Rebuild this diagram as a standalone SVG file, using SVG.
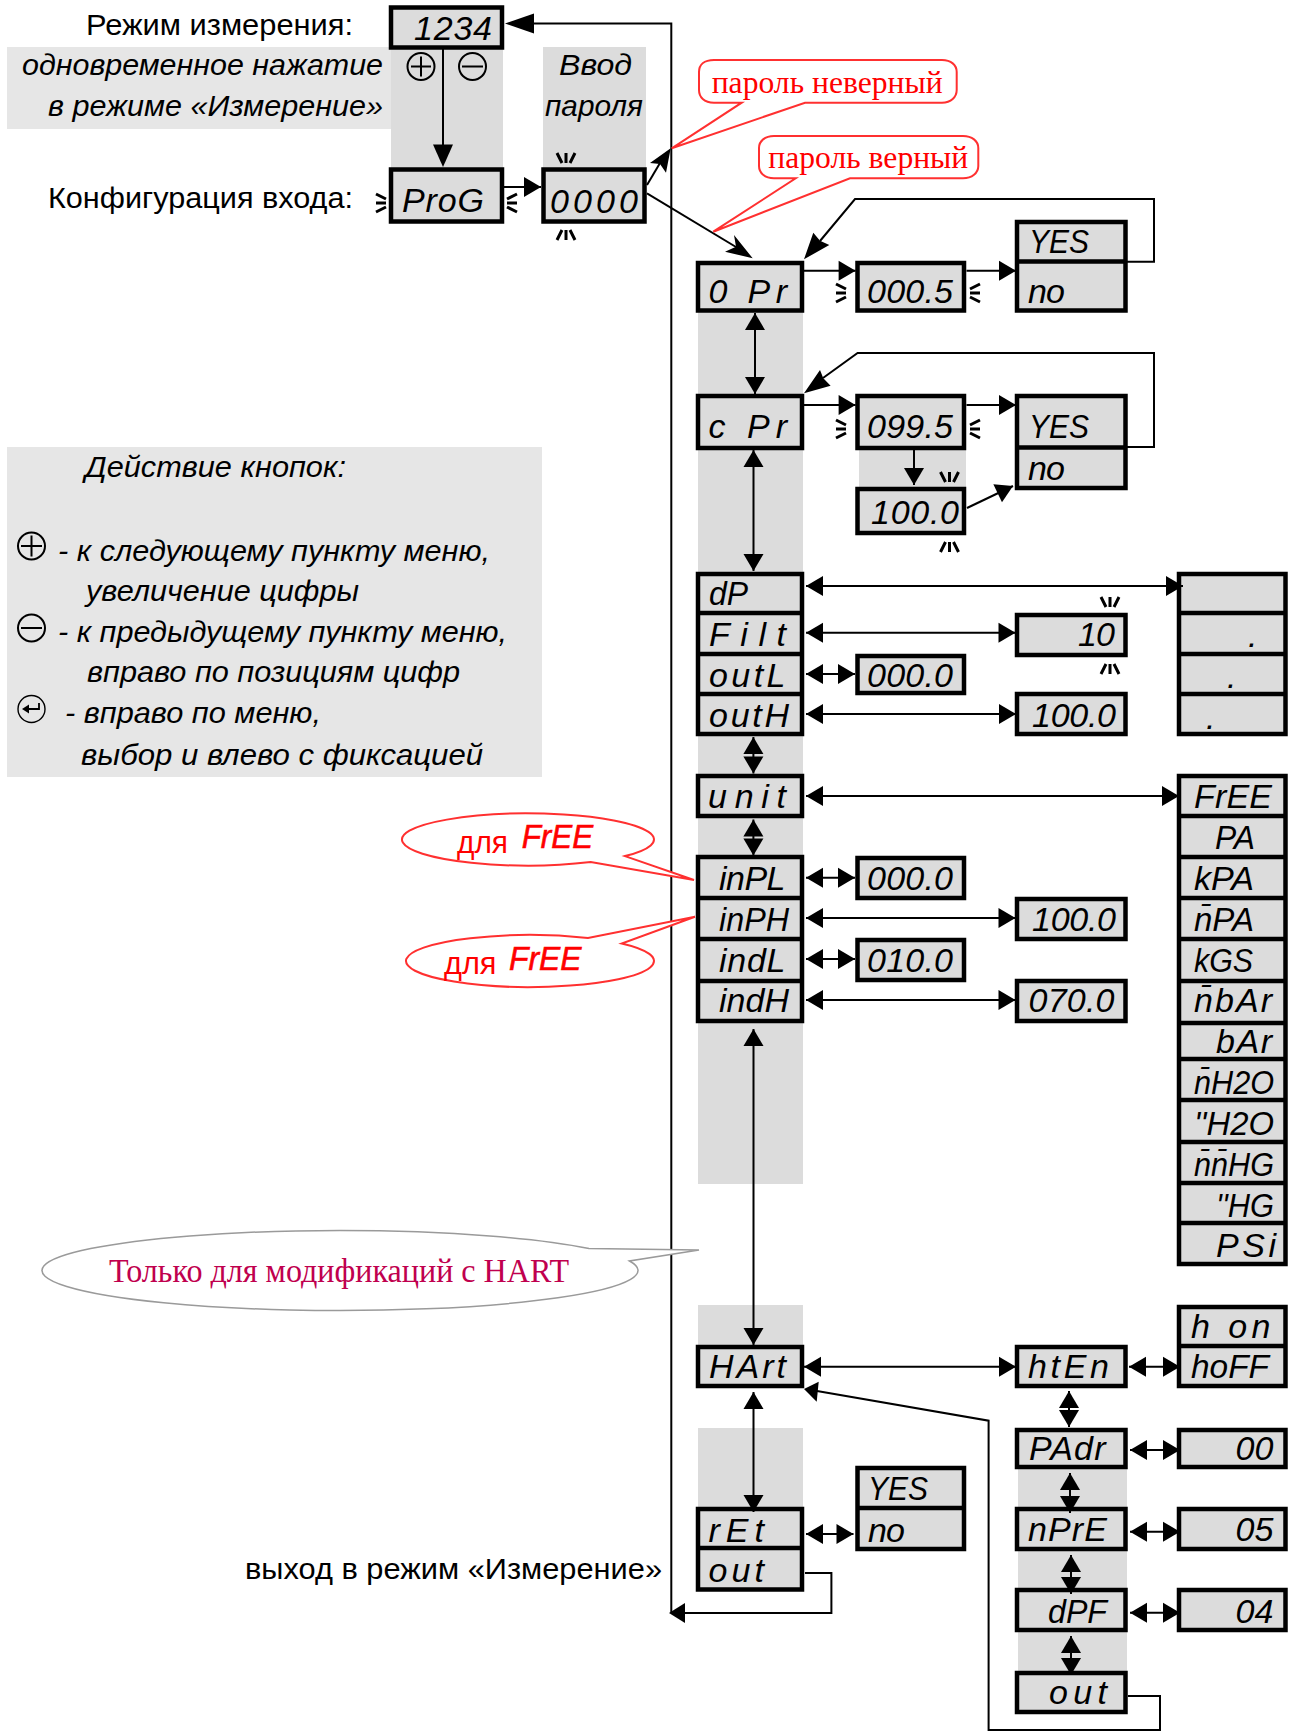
<svg xmlns="http://www.w3.org/2000/svg" xmlns:xlink="http://www.w3.org/1999/xlink" width="1292" height="1731" viewBox="0 0 1292 1731">
<style>
.bx{fill:#dcdcdc;stroke:#000;stroke-width:4.5}
.dv{stroke:#000;stroke-width:4.5;fill:none}
.lcd{font-family:"Liberation Sans",Arial,sans-serif;font-style:italic;font-size:34px;fill:#000}
.rlcd{font-family:"Liberation Sans",Arial,sans-serif;font-style:italic;font-size:33px;fill:#f00;stroke:#f00;stroke-width:.6}
.lb{font-family:"Liberation Sans",Arial,sans-serif;font-size:30px;fill:#000}
.it{font-family:"Liberation Sans",Arial,sans-serif;font-style:italic;font-size:30px;fill:#000}
.rs{font-family:"Liberation Serif","Times New Roman",serif;font-size:32px;fill:#f00}
.rsans{font-family:"Liberation Sans",Arial,sans-serif;font-size:31px;fill:#f00}
.rl{fill:#fff;stroke:#ff3030;stroke-width:2}
.c{fill:none;stroke:#000;stroke-width:2}
.d{fill:none;stroke:#000;stroke-width:2;marker-start:url(#h);marker-end:url(#h)}
.a{fill:none;stroke:#000;stroke-width:2;marker-end:url(#h)}
.hd{fill:#000;stroke:none}
.btn{fill:none;stroke:#000;stroke-width:2}
</style>
<defs>
<marker id="h" markerUnits="userSpaceOnUse" markerWidth="17" markerHeight="20" viewBox="0 0 17 20" refX="17" refY="10" orient="auto-start-reverse" overflow="visible"><path d="M0 0L17 10L0 20Z" fill="#000"/></marker>
<g id="blink"><path d="M-4 0L-9 -10M0 0V-10M4 0L9 -10" fill="none" stroke="#000" stroke-width="3"/></g>
</defs>
<g id="backgrounds">
<rect x="7" y="47" width="384" height="82" fill="#e6e6e6"/>
<rect x="391" y="47" width="112" height="122" fill="#dcdcdc"/>
<rect x="543" y="47" width="103" height="122" fill="#dcdcdc"/>
<rect x="698" y="312" width="105" height="872" fill="#dcdcdc"/>
<rect x="698" y="1305" width="105" height="42" fill="#dcdcdc"/>
<rect x="698" y="1428" width="105" height="80" fill="#dcdcdc"/>
<rect x="859" y="449" width="107" height="40" fill="#dcdcdc"/>
<rect x="1018" y="1469" width="109" height="203" fill="#dcdcdc"/>
<rect x="7" y="447" width="535" height="330" fill="#e6e6e6"/>
</g>
<g id="labels">
<text class="lb" x="86" y="35" textLength="267" lengthAdjust="spacingAndGlyphs">Режим измерения:</text>
<text class="it" x="22" y="75" textLength="361" lengthAdjust="spacingAndGlyphs">одновременное нажатие</text>
<text class="it" x="48" y="116" textLength="335" lengthAdjust="spacingAndGlyphs">в режиме «Измерение»</text>
<text class="it" x="559" y="75" textLength="73" lengthAdjust="spacingAndGlyphs">Ввод</text>
<text class="it" x="545" y="116" textLength="98" lengthAdjust="spacingAndGlyphs">пароля</text>
<text class="lb" x="48" y="208" textLength="305" lengthAdjust="spacingAndGlyphs">Конфигурация входа:</text>
<text class="lb" x="245" y="1579" textLength="417" lengthAdjust="spacingAndGlyphs">выход в режим «Измерение»</text>
<text class="it" x="85" y="477" textLength="261" lengthAdjust="spacingAndGlyphs">Действие кнопок:</text>
<text class="it" x="58" y="561" textLength="432" lengthAdjust="spacingAndGlyphs">- к следующему пункту меню,</text>
<text class="it" x="86" y="601" textLength="273" lengthAdjust="spacingAndGlyphs">увеличение цифры</text>
<text class="it" x="58" y="642" textLength="449" lengthAdjust="spacingAndGlyphs">- к предыдущему пункту меню,</text>
<text class="it" x="87" y="682" textLength="373" lengthAdjust="spacingAndGlyphs">вправо по позициям цифр</text>
<text class="it" x="65" y="723" textLength="256" lengthAdjust="spacingAndGlyphs">- вправо по меню,</text>
<text class="it" x="81" y="765" textLength="402" lengthAdjust="spacingAndGlyphs">выбор и влево с фиксацией</text>
</g>
<g id="buttons">
<g id="btn-plus-top"><circle class="btn" cx="421" cy="66.5" r="13.5"/><path class="btn" d="M411 66.5H431M421 56.5V76.5"/></g>
<g id="btn-minus-top"><circle class="btn" cx="472.5" cy="66.5" r="13.5"/><path class="btn" d="M462 66.5H483"/></g>
<g id="btn-plus"><circle class="btn" cx="31.5" cy="546" r="13.5"/><path class="btn" d="M21 546H42M31.5 535.5V556.5"/></g>
<g id="btn-minus"><circle class="btn" cx="31.5" cy="628" r="13.5"/><path class="btn" d="M21 628H42"/></g>
<g id="btn-enter"><circle cx="31.5" cy="709" r="13.5" fill="none" stroke="#000" stroke-width="1.4"/><path d="M39 703V709H28" fill="none" stroke="#000" stroke-width="1.8"/><path class="hd" d="M22 709L29 704.5V713.5Z"/></g>
</g>
<g id="n-1234"><rect class="bx" x="391" y="7.5" width="111" height="40"/><text class="lcd" x="414" y="40" textLength="78">1234</text></g>
<g id="n-prog"><rect class="bx" x="391" y="169.5" width="111" height="52"/><text class="lcd" x="402" y="212" textLength="82">ProG</text></g>
<g id="n-0000"><rect class="bx" x="543.500" y="169.5" width="101" height="52"/><text class="lcd" x="550" y="213" textLength="88">0000</text></g>
<g id="n-0pr"><rect class="bx" x="698" y="263" width="104" height="47.5"/><text class="lcd" x="708.5" y="303" textLength="78.5">0 Pr</text></g>
<g id="n-0005"><rect class="bx" x="857.500" y="263" width="106.500" height="47.5"/><text class="lcd" x="867" y="303" textLength="86">000.5</text></g>
<g id="n-yesno1"><rect class="bx" x="1017" y="222" width="108.500" height="88.5"/><path class="dv" d="M1017 261.500H1125.500"/><text class="lcd" x="1029" y="253" textLength="60" lengthAdjust="spacingAndGlyphs">YES</text><text class="lcd" x="1028" y="303" textLength="37">no</text></g>
<g id="n-cpr"><rect class="bx" x="698" y="396" width="104" height="52"/><text class="lcd" x="708.5" y="438" textLength="78.5">c Pr</text></g>
<g id="n-0995"><rect class="bx" x="857.500" y="396" width="106.500" height="52"/><text class="lcd" x="867" y="438" textLength="86">099.5</text></g>
<g id="n-yesno2"><rect class="bx" x="1017" y="396" width="108.500" height="92"/><path class="dv" d="M1017 447.500H1125.500"/><text class="lcd" x="1029" y="438" textLength="60" lengthAdjust="spacingAndGlyphs">YES</text><text class="lcd" x="1028" y="480" textLength="37">no</text></g>
<g id="n-1000a"><rect class="bx" x="857.500" y="489" width="106.500" height="44"/><text class="lcd" x="871" y="524" textLength="88">100.0</text></g>
<g id="n-stack1"><rect class="bx" x="698" y="574" width="104" height="160"/><path class="dv" d="M698 613H802M698 654H802M698 694H802"/><text class="lcd" x="709" y="605" textLength="39" lengthAdjust="spacingAndGlyphs">dP</text><text class="lcd" x="709" y="646" textLength="77">Filt</text><text class="lcd" x="709" y="687" textLength="76.500">outL</text><text class="lcd" x="709" y="727" textLength="80">outH</text></g>
<g id="n-dp-options"><rect class="bx" x="1179" y="574" width="106.500" height="160"/><path class="dv" d="M1179 613H1285.500M1179 654H1285.500M1179 694H1285.500"/><text class="lcd" x="1248" y="647">.</text><text class="lcd" x="1227" y="688">.</text><text class="lcd" x="1206" y="729">.</text></g>
<g id="n-10"><rect class="bx" x="1017" y="615" width="108.500" height="40"/><text class="lcd" x="1078" y="646" textLength="37">10</text></g>
<g id="n-0000b"><rect class="bx" x="857.500" y="656" width="106.500" height="37"/><text class="lcd" x="867" y="687" textLength="86">000.0</text></g>
<g id="n-1000b"><rect class="bx" x="1017" y="694" width="108.500" height="40"/><text class="lcd" x="1032" y="727" textLength="84">100.0</text></g>
<g id="n-unit"><rect class="bx" x="698" y="776" width="104" height="40"/><text class="lcd" x="708" y="808" textLength="78">unit</text></g>
<g id="n-units"><rect class="bx" x="1179" y="776" width="106.500" height="488"/><path class="dv" d="M1179 816H1285.500M1179 857H1285.500M1179 898H1285.500M1179 939H1285.500M1179 981H1285.500M1179 1023H1285.500M1179 1059H1285.500M1179 1100H1285.500M1179 1142H1285.500M1179 1183H1285.500M1179 1223H1285.500"/>
<text class="lcd" x="1194" y="808" textLength="78">FrEE</text><text class="lcd" x="1215" y="849" textLength="40" lengthAdjust="spacingAndGlyphs">PA</text><text class="lcd" x="1194" y="890" textLength="60" lengthAdjust="spacingAndGlyphs">kPA</text><text class="lcd" x="1194" y="931" textLength="60" lengthAdjust="spacingAndGlyphs">n̄PA</text><text class="lcd" x="1194" y="972" textLength="59" lengthAdjust="spacingAndGlyphs">kGS</text><text class="lcd" x="1194" y="1012" textLength="78">n̄bAr</text><text class="lcd" x="1216" y="1053" textLength="56">bAr</text><text class="lcd" x="1194" y="1094" textLength="80" lengthAdjust="spacingAndGlyphs">n̄H2O</text><text class="lcd" x="1194" y="1135" textLength="80" lengthAdjust="spacingAndGlyphs">''H2O</text><text class="lcd" x="1194" y="1176" textLength="80" lengthAdjust="spacingAndGlyphs">n̄n̄HG</text><text class="lcd" x="1216" y="1217" textLength="58" lengthAdjust="spacingAndGlyphs">''HG</text><text class="lcd" x="1216" y="1257" textLength="60">PSi</text></g>
<g id="n-stack2"><rect class="bx" x="698" y="857" width="104" height="164"/><path class="dv" d="M698 898H802M698 939H802M698 981H802"/><text class="lcd" x="719" y="890" textLength="66.500">inPL</text><text class="lcd" x="719" y="931" textLength="70" lengthAdjust="spacingAndGlyphs">inPH</text><text class="lcd" x="719" y="972" textLength="66.500">indL</text><text class="lcd" x="719" y="1012" textLength="70">indH</text></g>
<g id="n-0000c"><rect class="bx" x="857.500" y="858" width="106.500" height="40"/><text class="lcd" x="867" y="890" textLength="86">000.0</text></g>
<g id="n-1000c"><rect class="bx" x="1017" y="899" width="108.500" height="40"/><text class="lcd" x="1032" y="931" textLength="84">100.0</text></g>
<g id="n-0100"><rect class="bx" x="857.500" y="940" width="106.500" height="40"/><text class="lcd" x="867" y="972" textLength="86">010.0</text></g>
<g id="n-0700"><rect class="bx" x="1017" y="981" width="108.500" height="40"/><text class="lcd" x="1028.500" y="1012" textLength="86">070.0</text></g>
<g id="n-hart"><rect class="bx" x="698" y="1347" width="104" height="39"/><text class="lcd" x="709" y="1378" textLength="77">HArt</text></g>
<g id="n-hten"><rect class="bx" x="1017" y="1347" width="108.500" height="39"/><text class="lcd" x="1028" y="1378" textLength="81">htEn</text></g>
<g id="n-honoff"><rect class="bx" x="1179" y="1307" width="106.500" height="79"/><path class="dv" d="M1179 1346H1285.500"/><text class="lcd" x="1191" y="1338" textLength="79.500">h on</text><text class="lcd" x="1191" y="1378" textLength="78" lengthAdjust="spacingAndGlyphs">hoFF</text></g>
<g id="n-padr"><rect class="bx" x="1017" y="1430" width="108.500" height="37"/><text class="lcd" x="1029" y="1460" textLength="76.500">PAdr</text></g>
<g id="n-00"><rect class="bx" x="1179" y="1430" width="106.500" height="37"/><text class="lcd" x="1235.500" y="1460" textLength="38">00</text></g>
<g id="n-npre"><rect class="bx" x="1017" y="1509" width="108.500" height="40"/><text class="lcd" x="1028" y="1541" textLength="79">nPrE</text></g>
<g id="n-05"><rect class="bx" x="1179" y="1509" width="106.500" height="40"/><text class="lcd" x="1235.500" y="1541" textLength="38">05</text></g>
<g id="n-dpf"><rect class="bx" x="1017" y="1590" width="108.500" height="40"/><text class="lcd" x="1048" y="1623" textLength="59" lengthAdjust="spacingAndGlyphs">dPF</text></g>
<g id="n-04"><rect class="bx" x="1179" y="1590" width="106.500" height="40"/><text class="lcd" x="1235.500" y="1623" textLength="38">04</text></g>
<g id="n-out2"><rect class="bx" x="1017" y="1673" width="108.500" height="39"/><text class="lcd" x="1049" y="1704" textLength="58">out</text></g>
<g id="n-retout"><rect class="bx" x="698" y="1509" width="104" height="80.500"/><path class="dv" d="M698 1548H802"/><text class="lcd" x="708.500" y="1542" textLength="55.500">rEt</text><text class="lcd" x="708.500" y="1582" textLength="55.500">out</text></g>
<g id="n-yesno3"><rect class="bx" x="857.500" y="1468" width="106.500" height="81"/><path class="dv" d="M857.500 1508H964"/><text class="lcd" x="868" y="1500" textLength="60" lengthAdjust="spacingAndGlyphs">YES</text><text class="lcd" x="868" y="1542" textLength="37">no</text></g>
<g id="blinks">
<use xlink:href="#blink" href="#blink" transform="translate(386,203) rotate(-90)"/>
<use xlink:href="#blink" href="#blink" transform="translate(507,203) rotate(90)"/>
<use xlink:href="#blink" href="#blink" transform="translate(566,163)"/>
<use xlink:href="#blink" href="#blink" transform="translate(566,230) rotate(180)"/>
<use xlink:href="#blink" href="#blink" transform="translate(846,293) rotate(-90)"/>
<use xlink:href="#blink" href="#blink" transform="translate(970,293) rotate(90)"/>
<use xlink:href="#blink" href="#blink" transform="translate(846,429) rotate(-90)"/>
<use xlink:href="#blink" href="#blink" transform="translate(970,429) rotate(90)"/>
<use xlink:href="#blink" href="#blink" transform="translate(949.500,482)"/>
<use xlink:href="#blink" href="#blink" transform="translate(949.500,542) rotate(180)"/>
<use xlink:href="#blink" href="#blink" transform="translate(1110,607)"/>
<use xlink:href="#blink" href="#blink" transform="translate(1110,664) rotate(180)"/>
</g>
<g id="connectors">
<path class="c" d="M671.300 1613V23.500H530"/>
<path class="hd" d="M505 23.500L534 13.500V33.500Z"/>
<path class="c" d="M443 49V150"/>
<path class="hd" d="M443 167L433 144.500H453Z"/>
<path class="a" d="M504 187H541"/>
<path class="c" d="M647 185L660 163"/>
<path class="hd" d="M670.700 148.300L666 172.700L660 164L650 163Z"/>
<path class="c" d="M647 193.300L736 247"/>
<path class="hd" d="M752.700 258.300L725 251.700L736 246.700L734 235Z"/>
<path class="c" d="M1127 261.700H1154V199H855L820 241"/>
<path class="hd" d="M804 259.300L813.300 232.700L820 240.700L829.300 245Z"/>
<path class="c" d="M1127 447H1154V353H857.600L823 378"/>
<path class="hd" d="M804 393.300L820 370L823.300 378.300L830.600 385.700Z"/>
<path class="a" d="M804 270.700H855.600"/>
<path class="a" d="M966.500 270.700H1016"/>
<path class="a" d="M804 405H855.600"/>
<path class="a" d="M966.500 405H1016"/>
<path class="a" d="M914 449V485"/>
<path class="a" d="M967 508L1013 486"/>
<path class="d" d="M755 313V394"/>
<path class="d" d="M753.500 450V571"/>
<path class="d" d="M806 586H1183"/>
<path class="d" d="M806 632.700H1015.500"/>
<path class="d" d="M806 674H855"/>
<path class="d" d="M806 714H1016"/>
<path class="d" d="M753.400 737V773.500"/>
<path class="d" d="M806 796H1179"/>
<path class="d" d="M753.400 819.500V855.500"/>
<path class="d" d="M806 877.700H855"/>
<path class="d" d="M806 918H1015.500"/>
<path class="d" d="M806 959H855"/>
<path class="d" d="M806 1000H1015.500"/>
<path class="d" d="M753.500 1029V1345"/>
<path class="d" d="M804 1366.700H1016"/>
<path class="d" d="M1129 1366.700H1180"/>
<path class="d" d="M753.500 1392V1512"/>
<path class="d" d="M806 1534H853.500"/>
<path class="d" d="M1069 1391V1427"/>
<path class="d" d="M1070 1473V1513"/>
<path class="d" d="M1071 1555V1594"/>
<path class="d" d="M1071 1636V1675"/>
<path class="d" d="M1130 1450H1180"/>
<path class="d" d="M1130 1531.700H1180"/>
<path class="d" d="M1130 1612.700H1180"/>
<path class="c" d="M805 1573H831.400V1613H684"/>
<path class="hd" d="M669 1613L685 1603V1623Z"/>
<path class="c" d="M1128 1696H1160V1730H988.600V1420.700L817 1391"/>
<path class="hd" d="M804 1389L818.700 1381.700L816.700 1401.700Z"/>
</g>
<g id="callout-wrong"><path class="rl" d="M741.700 102.700H714C704 102.700 699 97 699 90V72C699 65 704 60 714 60H942C951 60 956.700 65 956.700 72V90C956.700 97 951 102.700 942 102.700H805L671.700 148.300Z"/><text class="rs" x="711.700" y="92.700" textLength="231" lengthAdjust="spacingAndGlyphs">пароль неверный</text></g>
<g id="callout-right"><path class="rl" d="M795.700 178.300H774C765 178.300 759 173 759 166V148C759 141 765 136 774 136H963C972 136 978.300 141 978.300 148V166C978.300 173 972 178.300 963 178.300H850L713.300 231.700Z"/><text class="rs" x="768.300" y="168.300" textLength="200" lengthAdjust="spacingAndGlyphs">пароль верный</text></g>
<g id="callout-free1"><path class="rl" d="M625 856.090L694 880L590.700 862.050A126 26 0 1 1 625 856.090Z"/><text class="rsans" x="457" y="852.700" textLength="51" lengthAdjust="spacingAndGlyphs">для</text><text class="rlcd" x="521.700" y="848" textLength="71.500" lengthAdjust="spacingAndGlyphs">FrEE</text></g>
<g id="callout-free2"><path class="rl" d="M621.700 943.500A124 26 0 1 1 588 938.020L695 916.700Z"/><text class="rsans" x="444" y="974" textLength="52.500" lengthAdjust="spacingAndGlyphs">для</text><text class="rlcd" x="509" y="970" textLength="72.500" lengthAdjust="spacingAndGlyphs">FrEE</text></g>
<g id="callout-hart"><path d="M589 1248.530L699 1250L629.500 1261.020A298 40 0 1 1 589 1248.530Z" fill="#fff" stroke="#9a9a9a" stroke-width="1.500"/><text x="109" y="1281.700" font-family="'Liberation Serif','Times New Roman',serif" font-size="33" fill="#c0004e" textLength="460" lengthAdjust="spacingAndGlyphs">Только для модификаций с HART</text></g>
</svg>
